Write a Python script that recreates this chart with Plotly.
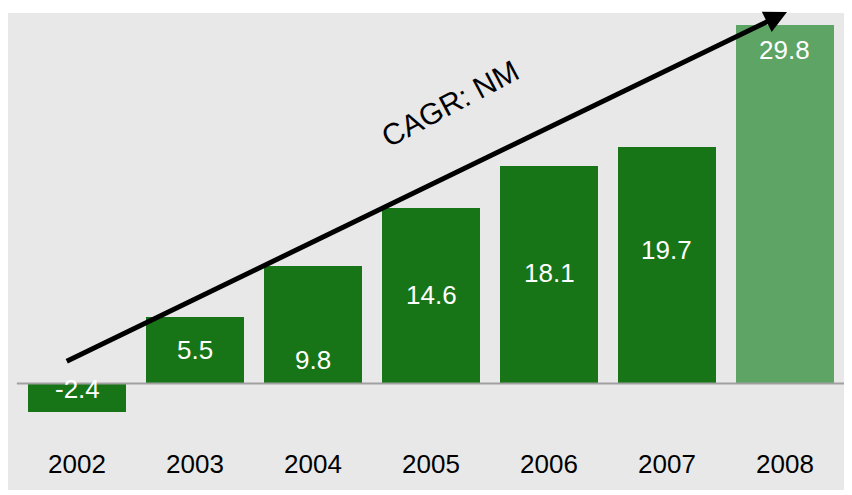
import plotly.graph_objects as go

# Data
years = ["2002", "2003", "2004", "2005", "2006", "2007", "2008"]
values = [-2.4, 5.5, 9.8, 14.6, 18.1, 19.7, 29.8]
value_labels = ["-2.4", "5.5", "9.8", "14.6", "18.1", "19.7", "29.8"]
cagr_text = "CAGR: NM"

# Where the white value labels sit inside each bar (y in data units)
label_y = [-0.46, 2.78, 1.95, 7.36, 9.19, 11.14, 27.72]

dark_green = "#177517"
light_green = "#5ea464"
bar_colors = [dark_green] * (len(years) - 1) + [light_green]

font_family = "Liberation Sans, Arial, sans-serif"

fig = go.Figure()

fig.add_trace(
    go.Bar(
        x=years,
        y=values,
        width=0.83,
        marker=dict(color=bar_colors, line=dict(width=0)),
        hoverinfo="skip",
    )
)

# value labels inside the bars (category index used for x)
for i, (lbl, ly) in enumerate(zip(value_labels, label_y)):
    fig.add_annotation(
        x=i, y=ly, text=lbl, showarrow=False,
        font=dict(family=font_family, size=26, color="white"),
        xanchor="center", yanchor="middle",
    )

# year labels below the baseline
for i, yr in enumerate(years):
    fig.add_annotation(
        x=i, y=-6.69, text=yr, showarrow=False,
        font=dict(family=font_family, size=26, color="black"),
        xanchor="center", yanchor="middle",
    )

# baseline
fig.add_shape(
    type="line", xref="x", yref="y",
    x0=-0.51, x1=6.51, y0=0, y1=0,
    line=dict(color="#a0a0a0", width=2),
)

# growth arrow
fig.add_annotation(
    x=6.017, y=30.88, ax=-0.10, ay=1.79,
    xref="x", yref="y", axref="x", ayref="y",
    text="", showarrow=True,
    arrowhead=2, arrowsize=0.9, arrowwidth=5, arrowcolor="black",
)

fig.add_annotation(
    x=3.16, y=23.3, xref="x", yref="y",
    text=cagr_text, showarrow=False, textangle=-28,
    font=dict(family=font_family, size=30, color="black"),
)

fig.update_xaxes(
    type="category", range=[-0.585, 6.568],
    showticklabels=False, showgrid=False, zeroline=False, showline=False,
)
fig.update_yaxes(
    range=[-8.85, 30.80],
    showticklabels=False, showgrid=False, zeroline=False, showline=False,
)

# the page body adds an 8px offset, so the figure is sized to fit inside it
fig.update_layout(
    width=844, height=487,
    margin=dict(l=0, r=0, t=5, b=5),
    paper_bgcolor="white",
    plot_bgcolor="#e8e8e8",
    showlegend=False,
    bargap=0,
)

fig.write_html("out.html")
